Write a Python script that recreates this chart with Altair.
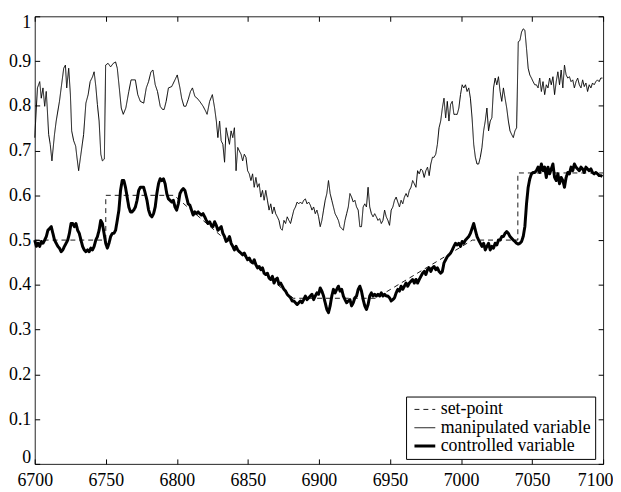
import altair as alt
import pandas as pd

FONT = "Liberation Serif, Times New Roman, Times, DejaVu Serif, serif"

# tick labels
x_ticks = [6700, 6750, 6800, 6850, 6900, 6950, 7000, 7050, 7100]
y_ticks = [0, 0.1, 0.2, 0.3, 0.4, 0.5, 0.6, 0.7, 0.8, 0.9, 1]

series_names = ["set-point", "manipulated variable", "controlled variable"]

# sampling interval of the read-off series (time units)
DT = 400 / 574 * 5 / 3

# ---- set-point ----
set_x = [6700, 6750, 6750, 6798, 6882, 6940, 7008, 7040, 7040, 7100]
set_y = [0.5, 0.5, 0.6, 0.6, 0.37, 0.37, 0.5, 0.5, 0.65, 0.65]

# ---- controlled variable (three sampled segments) ----
ctrl_a_t0 = 6700.0
ctrl_a = [0.500, 0.486, 0.493, 0.486, 0.497, 0.493, 0.500, 0.508, 0.522, 0.526,
          0.530, 0.515, 0.500, 0.493, 0.486, 0.482, 0.474, 0.478, 0.486, 0.493,
          0.500, 0.515, 0.537, 0.537, 0.530, 0.537, 0.522, 0.515, 0.500, 0.486,
          0.478, 0.474, 0.478, 0.474, 0.482, 0.478, 0.486, 0.500, 0.508, 0.522,
          0.544, 0.537, 0.515, 0.493, 0.482, 0.493, 0.508, 0.515, 0.515, 0.522,
          0.544, 0.567, 0.611, 0.633, 0.633, 0.618, 0.596, 0.574, 0.563, 0.563,
          0.567, 0.574, 0.589, 0.611, 0.618, 0.618, 0.618, 0.604, 0.589, 0.567,
          0.556, 0.552, 0.559, 0.574, 0.604, 0.626, 0.637, 0.633, 0.637, 0.626,
          0.604, 0.592, 0.589, 0.585, 0.589, 0.574, 0.567, 0.581, 0.604, 0.611,
          0.615, 0.611, 0.596, 0.581, 0.578, 0.567, 0.556, 0.563, 0.559, 0.563,
          0.559, 0.556, 0.559, 0.552, 0.544, 0.537, 0.541, 0.533, 0.530, 0.541,
          0.533, 0.522, 0.526, 0.530, 0.515, 0.508, 0.497, 0.500]
ctrl_b_t0 = 6837.05
ctrl_b = [0.508, 0.493, 0.486, 0.478, 0.486, 0.478, 0.474, 0.471, 0.467, 0.471,
          0.463, 0.456, 0.460, 0.452, 0.449, 0.456, 0.445, 0.438, 0.441, 0.434,
          0.438, 0.426, 0.423, 0.426, 0.415, 0.412, 0.419, 0.404, 0.412, 0.415,
          0.401, 0.404, 0.397, 0.390, 0.386, 0.379, 0.375, 0.371, 0.364, 0.364,
          0.360, 0.356, 0.360, 0.364, 0.360, 0.367, 0.375, 0.367, 0.371, 0.375,
          0.379, 0.367, 0.375, 0.382, 0.379, 0.393, 0.386, 0.375, 0.360, 0.345,
          0.338, 0.353, 0.375, 0.390, 0.382, 0.390, 0.397, 0.386, 0.390, 0.375,
          0.367, 0.360, 0.364, 0.367, 0.353, 0.360, 0.371, 0.375, 0.390, 0.397,
          0.386, 0.367, 0.353, 0.345, 0.356, 0.375, 0.382, 0.375, 0.379, 0.375,
          0.379, 0.375, 0.382, 0.375, 0.379, 0.375, 0.375, 0.371, 0.364, 0.367,
          0.371, 0.382, 0.390, 0.386, 0.397, 0.390, 0.397, 0.404, 0.397, 0.404,
          0.408, 0.412, 0.404, 0.412]
ctrl_c_t0 = 6969.45
ctrl_c = [0.404, 0.412, 0.419, 0.426, 0.430, 0.423, 0.434, 0.438, 0.430, 0.438,
          0.441, 0.434, 0.438, 0.430, 0.426, 0.430, 0.449, 0.456, 0.463, 0.467,
          0.471, 0.478, 0.486, 0.493, 0.489, 0.493, 0.486, 0.497, 0.493, 0.500,
          0.504, 0.508, 0.515, 0.526, 0.537, 0.522, 0.508, 0.500, 0.493, 0.486,
          0.493, 0.478, 0.486, 0.493, 0.478, 0.486, 0.482, 0.493, 0.489, 0.500,
          0.500, 0.508, 0.508, 0.515, 0.519, 0.515, 0.508, 0.504, 0.500, 0.497,
          0.493, 0.491, 0.493, 0.497, 0.508, 0.530, 0.581, 0.618, 0.637, 0.648,
          0.651, 0.651, 0.655, 0.663, 0.651, 0.670, 0.655, 0.663, 0.640, 0.663,
          0.648, 0.659, 0.670, 0.640, 0.633, 0.648, 0.626, 0.640, 0.633, 0.618,
          0.640, 0.651, 0.648, 0.663, 0.655, 0.670, 0.663, 0.659, 0.655, 0.663,
          0.659, 0.651, 0.663, 0.659, 0.655, 0.659, 0.651, 0.648, 0.651, 0.648,
          0.644, 0.644, 0.642]

# ---- manipulated variable ----
manip_a_x = [6700.0, 6701.9, 6703.5, 6704.6, 6705.8, 6707.0, 6708.1, 6708.8, 6709.8, 6710.9, 6712.1,
             6713.9, 6715.1, 6717.4, 6718.6, 6720.4, 6721.6, 6722.5, 6723.9, 6725.1,
             6726.0, 6727.4, 6728.8, 6729.7, 6730.9, 6732.5, 6734.4, 6736.0, 6737.6, 6739.0,
             6740.7, 6741.8, 6743.0, 6744.1, 6745.3, 6746.5, 6747.6, 6749.0, 6749.9, 6751.6,
             6753.4, 6755.3, 6756.9, 6758.1, 6759.5, 6760.9, 6762.3, 6764.1, 6766.2, 6767.8,
             6770.8, 6772.5, 6774.3, 6776.7, 6778.5, 6780.1, 6781.8, 6783.2, 6784.8, 6786.4,
             6788.3, 6789.9, 6791.1, 6792.5, 6794.1, 6796.4, 6798.7, 6800.3, 6802.2, 6803.4,
             6805.0, 6806.4, 6808.0, 6809.6, 6811.0, 6812.7, 6814.3, 6816.1, 6818.5, 6820.3,
             6821.3, 6823.1, 6825.0, 6826.6, 6827.8, 6828.9, 6830.1, 6831.2, 6832.4, 6833.6, 6834.7]
manip_a_y = [0.729, 0.840, 0.854, 0.817, 0.840, 0.799, 0.832, 0.795, 0.736, 0.714, 0.677,
             0.736, 0.766, 0.810, 0.840, 0.884, 0.891, 0.840, 0.884, 0.825,
             0.744, 0.722, 0.710, 0.685, 0.655, 0.692, 0.736, 0.806, 0.825, 0.854,
             0.865, 0.876, 0.843, 0.803, 0.766, 0.692, 0.677, 0.681, 0.891, 0.895,
             0.887, 0.895, 0.898, 0.884, 0.840, 0.795, 0.781, 0.795, 0.832, 0.858,
             0.858, 0.825, 0.810, 0.806, 0.840, 0.854, 0.876, 0.880, 0.847, 0.832,
             0.799, 0.792, 0.792, 0.810, 0.840, 0.843, 0.858, 0.869, 0.840, 0.817,
             0.799, 0.799, 0.814, 0.832, 0.840, 0.821, 0.817, 0.810, 0.799, 0.788,
             0.781, 0.810, 0.825, 0.795, 0.766, 0.729, 0.766, 0.722, 0.714, 0.674, 0.751]
manip_b_t0 = 6837.05
manip_b = [0.714, 0.744, 0.729, 0.751, 0.655, 0.707, 0.699, 0.692, 0.677, 0.692,
           0.685, 0.655, 0.648, 0.633, 0.648, 0.618, 0.640, 0.618, 0.626, 0.596,
           0.611, 0.589, 0.611, 0.589, 0.567, 0.581, 0.559, 0.574, 0.559, 0.552,
           0.544, 0.526, 0.522, 0.544, 0.537, 0.552, 0.544, 0.537, 0.552, 0.567,
           0.574, 0.585, 0.581, 0.585, 0.581, 0.589, 0.592, 0.581, 0.585, 0.578,
           0.567, 0.574, 0.559, 0.567, 0.552, 0.530, 0.544, 0.567, 0.589, 0.604,
           0.633, 0.604, 0.589, 0.574, 0.559, 0.552, 0.544, 0.530, 0.526, 0.522,
           0.544, 0.559, 0.574, 0.604, 0.596, 0.585, 0.589, 0.574, 0.567, 0.530,
           0.530, 0.574, 0.581, 0.574, 0.618, 0.574, 0.559, 0.552, 0.559, 0.552,
           0.544, 0.548, 0.537, 0.544, 0.567, 0.552, 0.544, 0.533, 0.567, 0.574,
           0.589, 0.596, 0.585, 0.574, 0.589, 0.581, 0.596, 0.604, 0.596, 0.611,
           0.618, 0.633, 0.626, 0.618]
manip_c_t0 = 6969.45
manip_c = [0.655, 0.648, 0.659, 0.655, 0.640, 0.655, 0.663, 0.644, 0.670, 0.685,
           0.685, 0.692, 0.714, 0.751, 0.766, 0.795, 0.817, 0.773, 0.810, 0.766,
           0.803, 0.810, 0.781, 0.781, 0.781, 0.795, 0.825, 0.847, 0.840, 0.847,
           0.832, 0.840, 0.817, 0.773, 0.714, 0.685, 0.670, 0.670, 0.685, 0.707,
           0.744, 0.766, 0.795, 0.744, 0.766, 0.773, 0.840, 0.862, 0.847, 0.865,
           0.832, 0.810, 0.840, 0.817, 0.795, 0.766, 0.744, 0.736, 0.729, 0.744,
           0.751, 0.943, 0.946, 0.965, 0.972, 0.969, 0.928, 0.884, 0.869, 0.862,
           0.854, 0.847, 0.847, 0.840, 0.862, 0.832, 0.854, 0.825, 0.847, 0.840,
           0.862, 0.847, 0.865, 0.825, 0.854, 0.876, 0.847, 0.880, 0.840, 0.891,
           0.869, 0.862, 0.865, 0.854, 0.858, 0.840, 0.854, 0.862, 0.847, 0.840,
           0.858, 0.843, 0.851, 0.832, 0.847, 0.840, 0.851, 0.847, 0.854, 0.858,
           0.854, 0.862, 0.862]

rows = []


def add(name, xs, ys):
    for a, b in zip(xs, ys):
        rows.append({"t": a, "v": b, "series": name, "i": len(rows)})


def grid(t0, vals):
    return [t0 + k * DT for k in range(len(vals))]


add("manipulated variable", manip_a_x, manip_a_y)
add("manipulated variable", grid(manip_b_t0, manip_b), manip_b)
add("manipulated variable", grid(manip_c_t0, manip_c), manip_c)
add("set-point", set_x, set_y)
add("controlled variable", grid(ctrl_a_t0, ctrl_a), ctrl_a)
add("controlled variable", grid(ctrl_b_t0, ctrl_b), ctrl_b)
add("controlled variable", grid(ctrl_c_t0, ctrl_c), ctrl_c)

df = pd.DataFrame(rows)

xscale = alt.Scale(domain=[6700, 7100], nice=False, zero=False)
yscale = alt.Scale(domain=[0, 1], nice=False, zero=False)
dash_scale = alt.Scale(domain=series_names, range=[[5, 4], [1, 0], [1, 0]])

legend = alt.Legend(
    title=None, orient="none", legendX=375, legendY=384,
    symbolType="stroke", symbolSize=441,
    symbolStrokeColor="black",
    symbolStrokeWidth={"expr": "datum.value == 'controlled variable' ? 3 : (datum.value == 'set-point' ? 0.9 : 1)"},
    labelFont=FONT, labelFontSize=18, labelColor="black",
    strokeColor="black", fillColor="white", padding=4, symbolOffset=6,
    labelOffset=7, rowPadding=0.5, cornerRadius=0,
)

common_axis = dict(
    grid=False, domain=False, tickColor="black", tickWidth=1,
    tickSize={"expr": "-5"}, labelFont=FONT, labelFontSize=18, labelColor="black",
    title=None,
)

x_bottom = alt.Axis(values=x_ticks, format="d", orient="bottom", labelFlush=False,
                    labelPadding=13,
                    labelOffset={"condition": {"test": "datum.value >= 7100", "value": -8}, "value": 0},
                    **common_axis)
y_left = alt.Axis(values=y_ticks, format="~g", orient="left", labelPadding=9,
                  labelFlush=True, labelFlushOffset=3, **common_axis)
x_top = alt.Axis(values=x_ticks, orient="top", labels=False, **common_axis)
y_right = alt.Axis(values=y_ticks, orient="right", labels=False, **common_axis)


def layer(name, width, xaxis, yaxis):
    return (
        alt.Chart(df)
        .transform_filter(alt.datum.series == name)
        .mark_line(color="black", strokeWidth=width, strokeJoin="round")
        .encode(
            x=alt.X("t:Q", scale=xscale, axis=xaxis),
            y=alt.Y("v:Q", scale=yscale, axis=yaxis),
            strokeDash=alt.StrokeDash("series:N", scale=dash_scale, legend=legend),
            order=alt.Order("i:Q"),
        )
    )


chart = (
    alt.layer(
        layer("manipulated variable", 1.0, x_bottom, y_left),
        layer("set-point", 0.9, x_top, y_right),
        layer("controlled variable", 3.0, None, None),
    )
    .resolve_axis(x="independent", y="independent")
    .properties(
        width=574, height=452,
        padding={"left": 27, "top": 6, "right": 10, "bottom": 24},
        autosize=alt.AutoSizeParams(type="none"),
        background="white",
    )
    .configure(font=FONT)
    .configure_view(stroke="#222222", strokeWidth=1)
)

chart.save("out.html", embed_options={"renderer": "svg", "actions": False})
